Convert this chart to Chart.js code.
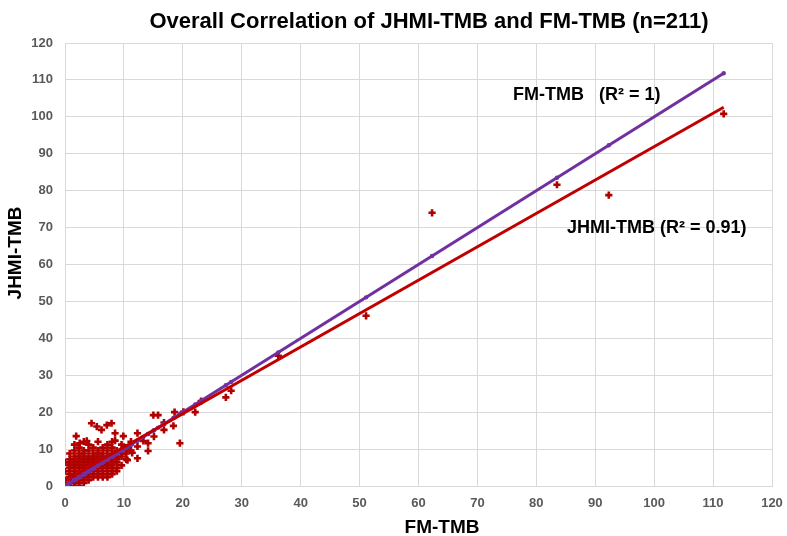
<!DOCTYPE html>
<html>
<head>
<meta charset="utf-8">
<script src="https://cdn.jsdelivr.net/npm/chart.js@4.4.1/dist/chart.umd.min.js"></script>
<style>
  html, body { margin: 0; padding: 0; background: #ffffff; }
  #wrap { width: 787px; height: 536px; }
</style>
</head>
<body>
<div id="wrap"><canvas id="tmbChart" width="787" height="536"></canvas></div>
<script>
// FM-TMB (x) a JHMI-TMB (y) pro každý vzorek
const fmTmb = [
  1.6, 2.4,
  0.8, 1.6, 2.4, 3.2,
  0, 0.8, 1.6, 2.4, 3.2, 4.0,
  0.8, 1.6, 2.4, 3.2, 4.0, 4.8, 5.6, 6.4, 7.2,
  0.8, 1.6, 2.4, 3.2, 4.0, 4.8, 5.6, 6.4, 7.2, 8.0,
  0, 0.8, 1.6, 2.4, 3.2, 4.0, 4.8, 5.6, 6.4, 7.2, 8.0, 8.8,
  0.8, 1.6, 2.4, 3.2, 4.0, 4.8, 5.6, 6.4, 7.2, 8.0, 8.8,
  0.8, 1.6, 2.4, 3.2, 4.0, 4.8, 5.6, 6.4, 7.2, 8.0, 9.6,
  0, 0.8, 1.6, 2.4, 3.2, 4.0, 4.8, 5.6, 6.4, 7.2, 8.0, 8.8,
  0.8, 1.6, 2.4, 3.2, 4.0, 4.8, 5.6, 6.4, 7.2, 8.0, 8.8, 10.4,
  1.6, 2.4, 3.2, 4.0, 4.8, 5.6, 6.4, 7.2, 8.0, 8.8, 9.6,
  0.8, 2.4, 3.2, 4.8, 5.6, 6.4, 8.0, 9.6, 10.4,
  1.6, 3.2, 4.0, 5.6, 7.2, 8.8, 11.2,
  2.4, 4.8, 6.4, 8.0, 10.4,
  1.6, 4.0, 7.2, 9.6,
  3.2, 5.6, 8.0, 11.2,
  1.9, 2.5, 3.7, 4.5, 5.4, 6.2, 7.1, 7.9, 8.5, 8.5, 9.9, 10.6, 10.4, 11.4,
  12.3, 12.3, 12.3, 13.3, 14.1, 14.1, 15.1, 15.0, 15.8, 16.8, 16.8, 18.4, 18.6, 19.5,
  20.1, 22.1, 23.1, 27.3, 28.2, 36.2, 51.1, 62.3, 83.5, 92.3, 111.8
];
const jhmiTmb = [
  0, 0,
  0.8, 0.8, 0.8, 0.8,
  1.6, 1.6, 1.6, 1.6, 1.6, 1.6,
  2.4, 2.4, 2.4, 2.4, 2.4, 2.4, 2.4, 2.4, 2.4,
  3.2, 3.2, 3.2, 3.2, 3.2, 3.2, 3.2, 3.2, 3.2, 3.2,
  4.0, 4.0, 4.0, 4.0, 4.0, 4.0, 4.0, 4.0, 4.0, 4.0, 4.0, 4.0,
  4.8, 4.8, 4.8, 4.8, 4.8, 4.8, 4.8, 4.8, 4.8, 4.8, 4.8,
  5.6, 5.6, 5.6, 5.6, 5.6, 5.6, 5.6, 5.6, 5.6, 5.6, 5.6,
  6.4, 6.4, 6.4, 6.4, 6.4, 6.4, 6.4, 6.4, 6.4, 6.4, 6.4, 6.4,
  7.2, 7.2, 7.2, 7.2, 7.2, 7.2, 7.2, 7.2, 7.2, 7.2, 7.2, 7.2,
  8.0, 8.0, 8.0, 8.0, 8.0, 8.0, 8.0, 8.0, 8.0, 8.0, 8.0,
  8.8, 8.8, 8.8, 8.8, 8.8, 8.8, 8.8, 8.8, 8.8,
  9.6, 9.6, 9.6, 9.6, 9.6, 9.6, 9.6,
  10.4, 10.4, 10.4, 10.4, 10.4,
  11.2, 11.2, 11.2, 11.2,
  12.0, 12.0, 12.0, 12.0,
  13.5, 11.6, 12.2, 17.0, 16.1, 15.2, 16.5, 17.0, 14.3, 12.3, 13.5, 7.0, 9.6, 9.0,
  14.3, 10.7, 7.5, 12.2, 11.6, 9.5, 13.4, 19.2, 19.2, 15.2, 17.2, 16.3, 20.0, 11.6,
  20.1, 20.0, 23.0, 24.0, 25.8, 35.3, 46.1, 74.0, 81.6, 78.8, 100.8
];

// Koncové body spojnic trendu
const fmTrend = [{ x: 0, y: 0 }, { x: 111.8, y: 111.8 }];
const jhmiTrend = [{ x: 0, y: 1.5 }, { x: 111.8, y: 102.6 }];

const chartTitle = 'Overall Correlation of JHMI-TMB and FM-TMB (n=211)';
const xTitle = 'FM-TMB';
const yTitle = 'JHMI-TMB';
const fmLabel = 'FM-TMB   (R\u00B2 = 1)';
const jhmiLabel = 'JHMI-TMB (R\u00B2 = 0.91)';

const purple = '#7030a0';
const red = '#c00000';

// Texty kreslené ručně (titulek, osy, popisky R²)
const textPlugin = {
    id: 'texts',
    afterDraw(chart) {
        const c = chart.ctx;
        c.save();
        c.fillStyle = '#000000';
        c.textBaseline = 'middle';
        c.textAlign = 'center';
        c.font = 'bold 22px "Liberation Sans", Arial, sans-serif';
        c.fillText(chartTitle, 429, 22);
        c.font = 'bold 19px "Liberation Sans", Arial, sans-serif';
        c.fillText(xTitle, 442, 528);
        c.save();
        c.translate(16, 253);
        c.rotate(-Math.PI / 2);
        c.fillText(yTitle, 0, 0);
        c.restore();
        c.textAlign = 'left';
        c.font = 'bold 18px "Liberation Sans", Arial, sans-serif';
        c.fillText(fmLabel, 513, 95);
        c.fillText(jhmiLabel, 567, 228);
        c.restore();
    }
};

const ctx = document.getElementById('tmbChart').getContext('2d');
new Chart(ctx, {
    type: 'scatter',
    data: {
        datasets: [
            {
                label: 'JHMI trend',
                data: jhmiTrend,
                showLine: true,
                borderColor: red,
                borderWidth: 3,
                pointRadius: 0
            },
            {
                label: 'FM trend',
                data: fmTrend,
                showLine: true,
                borderColor: purple,
                borderWidth: 3,
                pointRadius: 0
            },
            {
                label: 'FM-TMB',
                data: fmTmb.map(v => ({ x: v, y: v })),
                pointRadius: 2.2,
                pointBackgroundColor: purple,
                pointBorderWidth: 0
            },
            {
                label: 'JHMI-TMB',
                data: fmTmb.map((v, i) => ({ x: v, y: jhmiTmb[i] })),
                pointStyle: 'cross',
                pointRadius: 3.6,
                pointBorderWidth: 2.6,
                pointBorderColor: '#b00000'
            }
        ]
    },
    options: {
        responsive: false,
        animation: false,
        layout: { padding: { top: 43, right: 15, left: 0, bottom: 0 } },
        plugins: {
            legend: { display: false },
            tooltip: { enabled: false },
            title: { display: false }
        },
        scales: {
            x: {
                type: 'linear',
                min: 0,
                max: 120,
                ticks: {
                    stepSize: 10,
                    padding: 10,
                    color: '#595959',
                    font: { family: '"Liberation Sans", Arial, sans-serif', size: 13, weight: 'bold' }
                },
                grid: { color: '#d9d9d9', lineWidth: 1, drawTicks: false },
                border: { color: '#d9d9d9' },
                afterFit(scale) {
                    scale.height = 50;
                    scale.paddingLeft = 0;
                    scale.paddingRight = 0;
                }
            },
            y: {
                type: 'linear',
                min: 0,
                max: 120,
                ticks: {
                    stepSize: 10,
                    padding: 12,
                    color: '#595959',
                    font: { family: '"Liberation Sans", Arial, sans-serif', size: 13, weight: 'bold' }
                },
                grid: { color: '#d9d9d9', lineWidth: 1, drawTicks: false },
                border: { color: '#d9d9d9' },
                afterFit(scale) {
                    scale.width = 65;
                    scale.paddingTop = 0;
                    scale.paddingBottom = 0;
                }
            }
        }
    },
    plugins: [textPlugin]
});
</script>
</body>
</html>
